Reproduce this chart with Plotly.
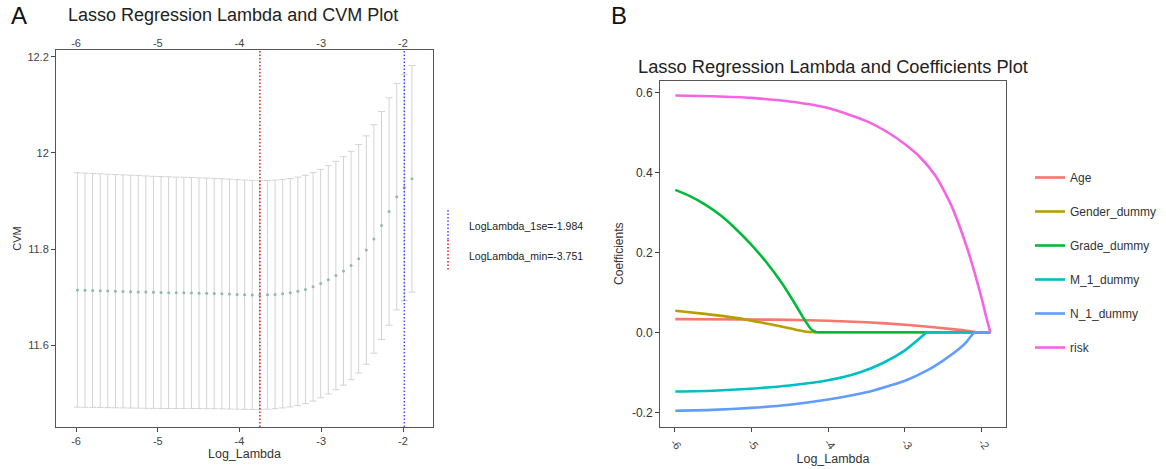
import plotly.graph_objects as go

# ---------------- data: cross-validation curve (panel A) ----------------
log_lambda = [-5.983, -5.890, -5.797, -5.704, -5.611, -5.518, -5.425, -5.332, -5.239,
              -5.146, -5.053, -4.960, -4.867, -4.774, -4.681, -4.588, -4.495, -4.402,
              -4.309, -4.216, -4.123, -4.030, -3.937, -3.844, -3.751, -3.658, -3.565,
              -3.472, -3.379, -3.286, -3.193, -3.100, -3.007, -2.914, -2.821, -2.728,
              -2.635, -2.542, -2.449, -2.356, -2.263, -2.170, -2.077, -1.984, -1.891]
cvm = [11.7150, 11.7145, 11.7140, 11.7135, 11.7130, 11.7125, 11.7120, 11.7115, 11.7110,
       11.7105, 11.7100, 11.7097, 11.7094, 11.7091, 11.7090, 11.7087, 11.7083, 11.7079,
       11.7075, 11.7070, 11.7064, 11.7058, 11.7052, 11.7047, 11.7043, 11.7048, 11.7058,
       11.7072, 11.7093, 11.7122, 11.7160, 11.7215, 11.7283, 11.7360, 11.7450, 11.7546,
       11.7658, 11.7798, 11.7980, 11.8210, 11.8490, 11.8780, 11.9090, 11.9280, 11.9460]
cvsd = [0.2437, 0.2435, 0.2432, 0.2430, 0.2427, 0.2425, 0.2423, 0.2420, 0.2418,
        0.2416, 0.2413, 0.2411, 0.2409, 0.2406, 0.2404, 0.2401, 0.2399, 0.2397,
        0.2394, 0.2392, 0.2390, 0.2387, 0.2385, 0.2382, 0.2380, 0.2378, 0.2377,
        0.2375, 0.2375, 0.2375, 0.2375, 0.2375, 0.2375, 0.2375, 0.2375, 0.2375,
        0.2375, 0.2375, 0.2375, 0.2375, 0.2370, 0.2365, 0.2355, 0.2355, 0.2355]
lambda_1se = -1.984
lambda_min = -3.751
ticks_a = [-6, -5, -4, -3, -2]
yticks_a = [11.6, 11.8, 12, 12.2]

# ---------------- data: coefficient paths (panel B) ----------------
# each path is listed up to the log-lambda where it reaches zero;
# after that it stays at 0 until the largest lambda of the grid
coef_names = ["Age", "Gender_dummy", "Grade_dummy", "M_1_dummy", "N_1_dummy", "risk"]
coef_colors = ["#F8766D", "#B79F00", "#00BA38", "#00BFC4", "#619CFF", "#F564E3"]
path_end = -1.891

age_x = [-5.983, -5.0, -4.5, -4.0, -3.5, -3.0, -2.6, -2.3, -2.07]
age_y = [0.033, 0.032, 0.031, 0.029, 0.025, 0.019, 0.012, 0.006, 0.0]

gender_x = [-5.983, -5.6, -5.2, -4.8, -4.5, -4.3, -4.2]
gender_y = [0.054, 0.046, 0.036, 0.022, 0.010, 0.002, 0.0]

grade_x = [-5.983, -5.8, -5.6, -5.4, -5.2, -5.0, -4.8, -4.6, -4.4, -4.3, -4.22, -4.15]
grade_y = [0.356, 0.341, 0.320, 0.293, 0.259, 0.220, 0.175, 0.123, 0.062, 0.030, 0.008, 0.0]

m1_x = [-5.983, -5.5, -5.0, -4.5, -4.0, -3.6, -3.3, -3.0, -2.85, -2.72]
m1_y = [-0.148, -0.146, -0.141, -0.133, -0.120, -0.101, -0.078, -0.045, -0.022, 0.0]

n1_x = [-5.983, -5.5, -5.0, -4.5, -4.0, -3.5, -3.0, -2.7, -2.5, -2.3, -2.2, -2.15, -2.1]
n1_y = [-0.196, -0.194, -0.189, -0.181, -0.168, -0.150, -0.121, -0.094, -0.070, -0.042, -0.024, -0.011, 0.0]

risk_x = [-5.983, -5.5, -5.0, -4.5, -4.0, -3.5, -3.2, -3.0, -2.8, -2.6, -2.4, -2.2, -2.1, -2.0, -1.95, -1.891]
risk_y = [0.592, 0.590, 0.586, 0.577, 0.561, 0.528, 0.497, 0.470, 0.437, 0.390, 0.318, 0.215, 0.152, 0.082, 0.042, 0.0]

coef_x = [age_x, gender_x, grade_x, m1_x, n1_x, risk_x]
coef_y = [age_y, gender_y, grade_y, m1_y, n1_y, risk_y]
ticks_b = [-6, -5, -4, -3, -2]
yticks_b = [-0.2, 0.0, 0.2, 0.4, 0.6]

FONT = "Liberation Sans, Arial, sans-serif"
W, H = 1166, 469

fig = go.Figure()

# CV mean with +/- 1 sd error bars
fig.add_trace(go.Scatter(
    x=log_lambda, y=cvm, mode="markers",
    marker=dict(color="#8fb9a8", size=3),
    error_y=dict(type="data", array=cvsd, symmetric=True,
                 color="#d3d3d3", thickness=1, width=3.5),
    xaxis="x", yaxis="y", showlegend=False, hoverinfo="x+y",
))
# carrier for the secondary (top) axis of panel A
fig.add_trace(go.Scatter(x=[log_lambda[0]], y=[None], xaxis="x3", yaxis="y",
                         showlegend=False, hoverinfo="skip"))

# coefficient paths: smooth curve, then (after a gap) a flat zero tail
for name, col, xs, ys in zip(coef_names, coef_colors, coef_x, coef_y):
    px, py = list(xs), list(ys)
    if xs[-1] < path_end:
        px += [None, xs[-1], path_end]
        py += [None, 0.0, 0.0]
    fig.add_trace(go.Scatter(
        x=px, y=py, mode="lines", name=name, legendgroup=name,
        line=dict(color=col, width=2.6, shape="spline", smoothing=0.6),
        connectgaps=False, xaxis="x2", yaxis="y2",
    ))

tick_font = dict(family=FONT, size=11, color="#444444")
axis_common = dict(showgrid=False, zeroline=False, showline=True, mirror=True,
                   linecolor="#555555", linewidth=1, ticks="outside", ticklen=4,
                   tickcolor="#444444", tickfont=tick_font)

xa_dom = [56 / W, 433 / W]
ya_dom = [1 - 427 / H, 1 - 50 / H]
xb_dom = [660 / W, 1006 / W]
yb_dom = [1 - 426.7 / H, 1 - 80.7 / H]

fig.update_layout(
    width=W, height=H, margin=dict(l=0, r=0, t=0, b=0),
    paper_bgcolor="white", plot_bgcolor="white",
    font=dict(family=FONT, color="#222222"),
    xaxis=dict(domain=xa_dom, anchor="y", range=[-6.245, -1.633],
               tickvals=ticks_a, ticktext=[str(t) for t in ticks_a],
               title=dict(text="Log_Lambda", font=dict(size=12.5, color="#333333"), standoff=1),
               **axis_common),
    xaxis3=dict(overlaying="x", side="top", anchor="y", range=[-6.245, -1.633],
                tickvals=ticks_a, ticktext=[str(t) for t in ticks_a],
                showgrid=False, zeroline=False, showline=False, ticks="",
                tickfont=tick_font),
    yaxis=dict(domain=ya_dom, anchor="x", range=[11.430, 12.214],
               tickvals=yticks_a, ticktext=["11.6", "11.8", "12", "12.2"],
               title=dict(text="CVM", font=dict(size=11, color="#333333"), standoff=3),
               **axis_common),
    xaxis2=dict(domain=xb_dom, anchor="y2", range=[-6.182, -1.688],
                tickvals=ticks_b, ticktext=[str(t) for t in ticks_b], tickangle=50,
                title=dict(text="Log_Lambda", font=dict(size=12.5, color="#333333"), standoff=1),
                **axis_common),
    yaxis2=dict(domain=yb_dom, anchor="x2", range=[-0.236, 0.629],
                tickvals=yticks_b, ticktext=["-0.2", "0.0", "0.2", "0.4", "0.6"],
                title=dict(text="Coefficients", font=dict(size=12, color="#333333"), standoff=5),
                **{**axis_common, "tickfont": dict(family=FONT, size=12, color="#333333")}),
    legend=dict(x=1030 / W, y=1 - 163 / H, xanchor="left", yanchor="top",
                font=dict(family=FONT, size=12, color="#333333"),
                tracegroupgap=15, bgcolor="rgba(0,0,0,0)", itemwidth=30),
)

# reference lines for the selected lambdas
fig.add_shape(type="line", xref="x", yref="y domain", x0=lambda_min, x1=lambda_min,
              y0=0, y1=1, line=dict(color="#e02020", width=1.5, dash="1.5px,2px"))
fig.add_shape(type="line", xref="x", yref="y domain", x0=lambda_1se, x1=lambda_1se,
              y0=0, y1=1, line=dict(color="#4a4aff", width=1.5, dash="1.5px,2px"))

# key for the reference lines
fig.add_shape(type="line", xref="paper", yref="paper", x0=448 / W, x1=448 / W,
              y0=1 - 210 / H, y1=1 - 240 / H, line=dict(color="#4a4aff", width=1.5, dash="1.5px,2px"))
fig.add_shape(type="line", xref="paper", yref="paper", x0=448 / W, x1=448 / W,
              y0=1 - 240 / H, y1=1 - 270 / H, line=dict(color="#e02020", width=1.5, dash="1.5px,2px"))
fig.add_annotation(xref="paper", yref="paper", x=467 / W, y=1 - 226 / H, xanchor="left",
                   yanchor="middle", showarrow=False,
                   text=f"LogLambda_1se={lambda_1se}",
                   font=dict(family=FONT, size=10.5, color="#222222"))
fig.add_annotation(xref="paper", yref="paper", x=467 / W, y=1 - 256 / H, xanchor="left",
                   yanchor="middle", showarrow=False,
                   text=f"LogLambda_min={lambda_min}",
                   font=dict(family=FONT, size=10.5, color="#222222"))

# panel letters and titles
fig.add_annotation(xref="paper", yref="paper", x=9 / W, y=1 - 15 / H, xanchor="left",
                   yanchor="middle", showarrow=False, text="A",
                   font=dict(family=FONT, size=24, color="#111111"))
fig.add_annotation(xref="paper", yref="paper", x=609 / W, y=1 - 15 / H, xanchor="left",
                   yanchor="middle", showarrow=False, text="B",
                   font=dict(family=FONT, size=24, color="#111111"))
fig.add_annotation(xref="paper", yref="paper", x=66 / W, y=1 - 15 / H, xanchor="left",
                   yanchor="middle", showarrow=False,
                   text="Lasso Regression Lambda and CVM Plot",
                   font=dict(family=FONT, size=18, color="#222222"))
fig.add_annotation(xref="paper", yref="paper", x=636 / W, y=1 - 66 / H, xanchor="left",
                   yanchor="middle", showarrow=False,
                   text="Lasso Regression Lambda and Coefficients Plot",
                   font=dict(family=FONT, size=18.3, color="#222222"))

fig.write_html("out.html")
